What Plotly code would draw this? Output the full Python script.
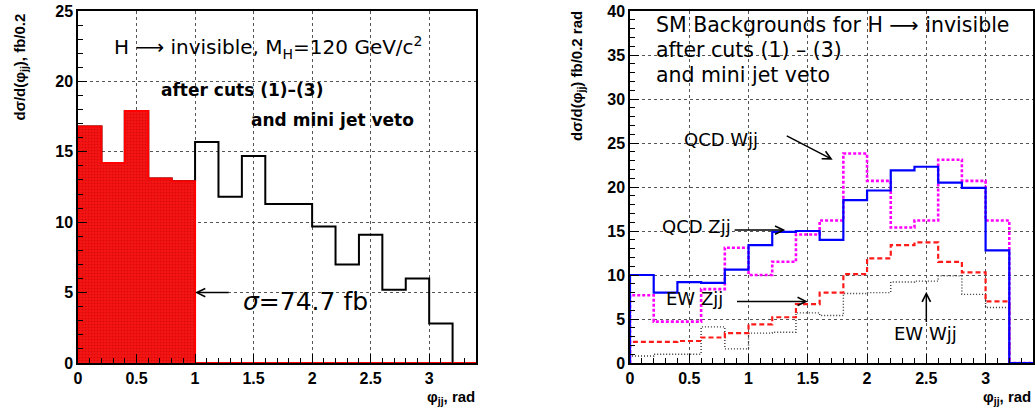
import plotly.graph_objects as go

# ---------------- data ----------------
bin_edges = [round(0.2 * i, 1) for i in range(18)]  # 0.0 ... 3.4

# Left panel: H -> invisible signal (fb / 0.2 rad)
signal = [16.8, 14.2, 17.9, 13.1, 12.9, 15.7, 11.8, 14.7, 11.3, 11.3,
          9.7, 7.0, 9.1, 5.2, 6.0, 2.8, 0.0]
signal_fill = [16.8, 14.2, 17.9, 13.1, 12.9, 0.0, 0.0, 0.0, 0.0, 0.0,
               0.0, 0.0, 0.0, 0.0, 0.0, 0.0, 0.0]

# Right panel: SM backgrounds
qcd_zjj = [10.0, 8.0, 9.2, 9.1, 10.6, 13.4, 14.9, 15.0, 14.0, 18.5,
           19.6, 21.9, 22.3, 20.5, 19.9, 12.8, 0.0]
qcd_wjj = [7.7, 4.7, 4.7, 8.4, 13.1, 10.0, 11.5, 14.6, 16.2, 23.8,
           20.7, 15.4, 16.2, 23.1, 20.7, 16.2, 0.0]
ew_zjj = [2.4, 2.4, 2.5, 2.9, 3.4, 4.4, 5.2, 6.7, 8.0, 10.1,
          11.9, 13.4, 13.7, 11.5, 10.3, 7.0, 0.0]
ew_wjj = [0.8, 1.0, 1.0, 4.1, 1.6, 3.4, 3.5, 5.7, 5.4, 7.9,
          8.0, 9.2, 9.3, 9.9, 7.8, 6.3, 0.0]

x_ticks = [0, 0.5, 1, 1.5, 2, 2.5, 3]
x_tick_text = ["0", "0.5", "1", "1.5", "2", "2.5", "3"]


def step_xy(values):
    xs = [bin_edges[0]] + bin_edges[:-1] + [bin_edges[-1]]
    ys = [0.0] + list(values) + [values[-1]]
    return xs, ys


fig = go.Figure()

# ---------------- left panel ----------------
sx, sy = step_xy(signal)
fig.add_trace(go.Scatter(x=sx, y=sy, mode="lines", line=dict(color="black", width=2, shape="hv"),
                         xaxis="x", yaxis="y", showlegend=False, hoverinfo="skip"))
fx, fy = step_xy(signal_fill)
fig.add_trace(go.Scatter(x=fx, y=fy, mode="lines", fill="tozeroy",
                         fillcolor="#f41414",
                         fillpattern=dict(shape=".", fgcolor="#b80000", bgcolor="#f41414",
                                          size=3, solidity=0.25),
                         line=dict(color="#ff0000", width=2, shape="hv"),
                         xaxis="x", yaxis="y", showlegend=False, hoverinfo="skip"))

# ---------------- right panel ----------------
series = [
    (ew_wjj, "#333333", 1.4, "1px,2px"),
    (ew_zjj, "#ff1a1a", 2.2, "5px,3px"),
    (qcd_wjj, "#ff00ff", 2.6, "3px,2px"),
    (qcd_zjj, "#0000ff", 2.2, "solid"),
]
for vals, col, w, dash in series:
    xs, ys = step_xy(vals)
    fig.add_trace(go.Scatter(x=xs, y=ys, mode="lines",
                             line=dict(color=col, width=w, dash=dash, shape="hv"),
                             xaxis="x2", yaxis="y2", showlegend=False, hoverinfo="skip"))

W, H = 1035, 414
ydom = [51 / H, 403 / H]
tickfont = dict(family="Liberation Sans, Arial, sans-serif", size=16, color="black", weight="bold")

axis_common = dict(showline=True, mirror=True, linecolor="black", linewidth=1.5,
                   showgrid=True, gridcolor="#555555", griddash="dot", gridwidth=1,
                   zeroline=False, ticks="inside", ticklen=9, tickcolor="black",
                   tickfont=tickfont, fixedrange=True, automargin=False)

minor_x = dict(dtick=0.1, ticks="inside", ticklen=5, tickcolor="black", showgrid=False)
minor_y = dict(dtick=1, ticks="inside", ticklen=5, tickcolor="black", showgrid=False)

fig.update_layout(
    width=W, height=H,
    margin=dict(l=0, r=0, t=0, b=0, autoexpand=False),
    paper_bgcolor="white", plot_bgcolor="white",
    xaxis=dict(domain=[78 / W, 476 / W], range=[0, 3.4], anchor="y",
               tickvals=x_ticks, ticktext=x_tick_text, minor=minor_x, **axis_common),
    yaxis=dict(domain=ydom, range=[0, 25], anchor="x", dtick=5, minor=minor_y, **axis_common),
    xaxis2=dict(domain=[630 / W, 1033 / W], range=[0, 3.4], anchor="y2",
                tickvals=x_ticks, ticktext=x_tick_text, minor=minor_x, **axis_common),
    yaxis2=dict(domain=ydom, range=[0, 40], anchor="x2", dtick=5, minor=minor_y, **axis_common),
)

txt_font = "DejaVu Sans, Noto Sans, sans-serif"
lbl_font = dict(family="Liberation Sans, Arial", size=15, weight="bold", color="black")
ann = []
# axis titles
ann.append(dict(text="dσ/d(φ<sub>jj</sub>), fb/0.2", xref="paper", yref="paper",
                x=20 / W, y=1 - 12 / H, xanchor="center", yanchor="top", textangle=-90,
                showarrow=False, font=lbl_font))
ann.append(dict(text="dσ/d(φ<sub>jj</sub>) fb/0.2 rad", xref="paper", yref="paper",
                x=577 / W, y=1 - 9 / H, xanchor="center", yanchor="top", textangle=-90,
                showarrow=False, font=lbl_font))
ann.append(dict(text="φ<sub>jj</sub>, rad", xref="paper", yref="paper",
                x=477 / W, y=1 - 397 / H, xanchor="right", yanchor="middle",
                showarrow=False, font=lbl_font))
ann.append(dict(text="φ<sub>jj</sub>, rad", xref="paper", yref="paper",
                x=1033 / W, y=1 - 397 / H, xanchor="right", yanchor="middle",
                showarrow=False, font=lbl_font))

# left panel texts
ann.append(dict(text="H ⟶ invisible, M<sub>H</sub>=120 GeV/c<sup>2</sup>", xref="paper", yref="paper",
                x=112 / W, y=1 - 47 / H, xanchor="left", yanchor="middle", showarrow=False,
                font=dict(family=txt_font, size=20, color="black")))
ann.append(dict(text="after cuts (1)–(3)", xref="paper", yref="paper",
                x=159 / W, y=1 - 90 / H, xanchor="left", yanchor="middle", showarrow=False,
                font=dict(family=txt_font, size=17, color="black", weight="bold")))
ann.append(dict(text="and mini jet veto", xref="paper", yref="paper",
                x=249 / W, y=1 - 120 / H, xanchor="left", yanchor="middle", showarrow=False,
                font=dict(family=txt_font, size=17, color="black", weight="bold")))
ann.append(dict(text="<i>σ</i>=74.7 fb", xref="paper", yref="paper",
                x=241 / W, y=1 - 301 / H, xanchor="left", yanchor="middle", showarrow=False,
                font=dict(family=txt_font, size=25, color="black")))
ann.append(dict(text="", x=1.0, y=5.0, xref="x", yref="y", ax=1.30, ay=5.0, axref="x", ayref="y",
                showarrow=True, arrowhead=5, arrowsize=1.1, arrowwidth=1.5, arrowcolor="black"))

# right panel texts
for i, t in enumerate(["SM Backgrounds for H ⟶ invisible", "after cuts (1) – (3)", "and mini jet veto"]):
    ann.append(dict(text=t, xref="paper", yref="paper", x=654 / W, y=1 - (25 + 25 * i) / H,
                    xanchor="left", yanchor="middle", showarrow=False,
                    font=dict(family=txt_font, size=20.5, color="black")))

lab_font = dict(family=txt_font, size=18, color="black")
ann.append(dict(text="QCD Wjj", x=1.10, y=25.4, xref="x2", yref="y2", xanchor="right", yanchor="middle",
                showarrow=False, font=lab_font))
ann.append(dict(text="", x=1.71, y=23.1, xref="x2", yref="y2", ax=1.31, ay=25.9, axref="x2", ayref="y2",
                showarrow=True, arrowhead=5, arrowsize=1.1, arrowwidth=1.5, arrowcolor="black"))
ann.append(dict(text="QCD Zjj", x=0.87, y=15.5, xref="x2", yref="y2", xanchor="right", yanchor="middle",
                showarrow=False, font=lab_font))
ann.append(dict(text="", x=1.31, y=15.1, xref="x2", yref="y2", ax=0.87, ay=15.1, axref="x2", ayref="y2",
                showarrow=True, arrowhead=5, arrowsize=1.1, arrowwidth=1.5, arrowcolor="black"))
ann.append(dict(text="EW Zjj", x=0.80, y=7.3, xref="x2", yref="y2", xanchor="right", yanchor="middle",
                showarrow=False, font=lab_font))
ann.append(dict(text="", x=1.50, y=7.0, xref="x2", yref="y2", ax=0.89, ay=7.0, axref="x2", ayref="y2",
                showarrow=True, arrowhead=5, arrowsize=1.1, arrowwidth=1.5, arrowcolor="black"))
ann.append(dict(text="EW Wjj", x=2.49, y=3.3, xref="x2", yref="y2", xanchor="center", yanchor="middle",
                showarrow=False, font=lab_font))
ann.append(dict(text="", x=2.5, y=8.1, xref="x2", yref="y2", ax=2.5, ay=4.5, axref="x2", ayref="y2",
                showarrow=True, arrowhead=5, arrowsize=1.1, arrowwidth=1.5, arrowcolor="black"))

fig.update_layout(annotations=ann)
fig.write_html("out.html", config={"displayModeBar": False},
               post_script="document.body.style.margin='0px';document.body.style.overflow='hidden';")
